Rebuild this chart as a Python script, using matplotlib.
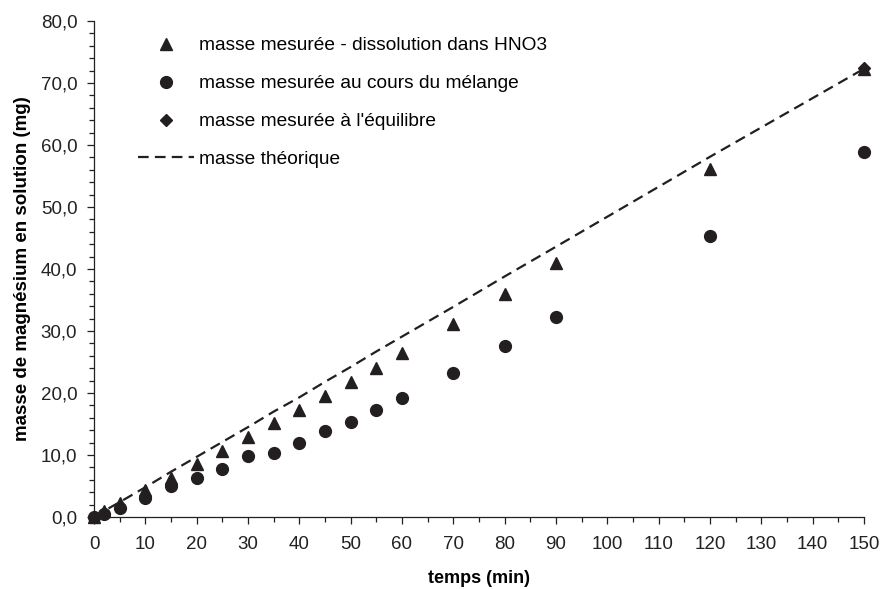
import matplotlib
matplotlib.use("Agg")
import matplotlib.pyplot as plt
from matplotlib.ticker import MultipleLocator, FuncFormatter

# Data
temps = [0, 2, 5, 10, 15, 20, 25, 30, 35, 40, 45, 50, 55, 60, 70, 80, 90, 120, 150]
masse_hno3 = [0.0, 1.0, 2.2, 4.3, 6.3, 8.6, 10.6, 12.9, 15.1, 17.3, 19.5, 21.8, 24.0, 26.5,
              31.2, 35.9, 40.9, 56.2, 72.2]
masse_melange = [0.0, 0.5, 1.4, 3.0, 5.0, 6.3, 7.7, 9.8, 10.4, 12.0, 13.9, 15.3, 17.3, 19.2,
                 23.2, 27.6, 32.3, 45.3, 58.8]
temps_equilibre = [150]
masse_equilibre = [72.4]
masse_theorique = [0.0, 1.0, 2.4, 4.8, 7.3, 9.7, 12.1, 14.5, 17.0, 19.3, 21.8, 24.2, 26.7, 29.1,
                   33.9, 38.8, 43.6, 58.1, 72.3]

labels = ["masse mesurée - dissolution dans HNO3",
          "masse mesurée au cours du mélange",
          "masse mesurée à l'équilibre",
          "masse théorique"]
xlabel = "temps (min)"
ylabel = "masse de magnésium en solution (mg)"

plt.rcParams['font.family'] = ['Liberation Sans', 'DejaVu Sans']
col = '#231f20'

fig = plt.figure(figsize=(8.82, 5.89), dpi=100)
ax = fig.add_axes([94/882, 1-517/589, 770/882, 496/589])

h1, = ax.plot(temps, masse_hno3, linestyle='none', marker='^', ms=9, color=col, clip_on=False, zorder=3)
h2, = ax.plot(temps, masse_melange, linestyle='none', marker='o', ms=8.5, color=col, clip_on=False, zorder=3)
h3, = ax.plot(temps_equilibre, masse_equilibre, linestyle='none', marker='D', ms=6.5, color=col, clip_on=False, zorder=4)
h4, = ax.plot(temps, masse_theorique, linestyle=(0, (4.8, 2.8)), lw=1.6, color=col, zorder=2)

ax.set_xlim(0, 150)
ax.set_ylim(0, 80)
ax.xaxis.set_major_locator(MultipleLocator(10))
ax.xaxis.set_minor_locator(MultipleLocator(5))
ax.yaxis.set_major_locator(MultipleLocator(10))
ax.yaxis.set_minor_locator(MultipleLocator(2))
ax.yaxis.set_major_formatter(FuncFormatter(lambda v, p: f"{v:.1f}".replace('.', ',')))

for s in ['top', 'right']:
    ax.spines[s].set_visible(False)
for s in ['left', 'bottom']:
    ax.spines[s].set_linewidth(0.9)
    ax.spines[s].set_color(col)

ax.tick_params(axis='both', which='major', direction='out', length=5, width=0.9, color=col,
               labelsize=13.5, labelcolor='#222222')
ax.tick_params(axis='both', which='minor', direction='out', length=3.5, width=0.9, color=col)
ax.tick_params(axis='y', which='major', pad=7)
ax.tick_params(axis='x', which='major', pad=9)

ax.set_xlabel(xlabel, fontsize=13, fontweight='bold', labelpad=12)
ax.set_ylabel(ylabel, fontsize=13.5, fontweight='bold', labelpad=7)

leg = ax.legend([h1, h2, h3, h4], labels, loc='upper left', frameon=False,
                bbox_to_anchor=(138/882, 1-37/589), bbox_transform=fig.transFigure,
                fontsize=13.8, handlelength=2.9, handletextpad=0.3, labelspacing=1.07,
                borderpad=0, borderaxespad=0, numpoints=1)

fig.savefig('out.png', dpi=100)
